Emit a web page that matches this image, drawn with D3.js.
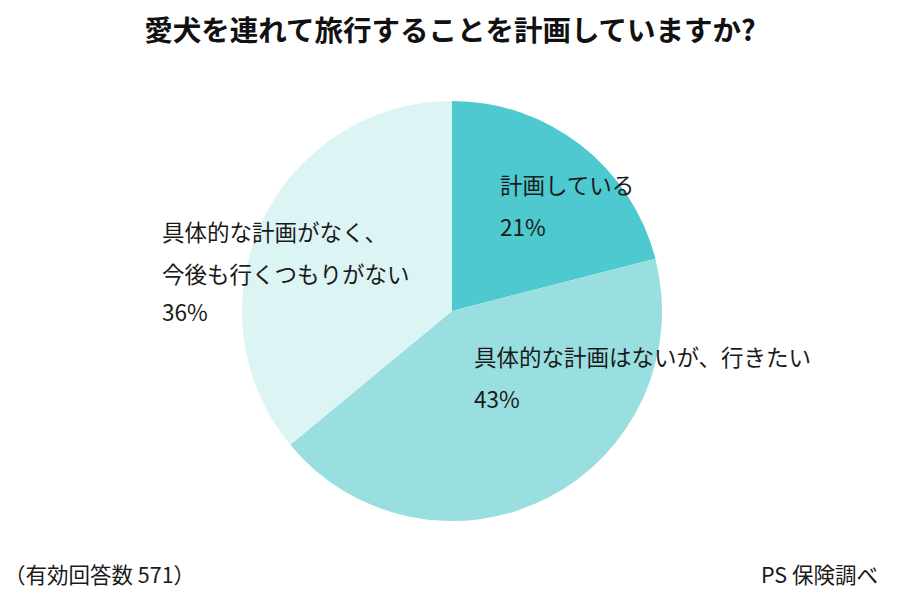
<!DOCTYPE html>
<html><head><meta charset="utf-8">
<script src="https://cdn.jsdelivr.net/npm/d3@7"></script>
<style>body{margin:0;background:#fff}</style>
</head><body>
<svg id="c" width="900" height="600"></svg>
<script>
const categories = ["計画している", "具体的な計画はないが、行きたい", "具体的な計画がなく、今後も行くつもりがない"];
const values = [21, 43, 36];
const colors = ["#4dc9cf", "#99dfe0", "#ddf4f4"];
const labelLines = [["計画している", "21%"], ["具体的な計画はないが、行きたい", "43%"], ["具体的な計画がなく、", "今後も行くつもりがない", "36%"]];
const labelPos = [[500, 194], [474, 366], [162, 241]];
const title = "愛犬を連れて旅行することを計画していますか?";
const noteLeft = "（有効回答数 571）";
const noteRight = "PS 保険調べ";

const font = "'Noto Sans CJK JP', 'Noto Sans', sans-serif";
const svg = d3.select("#c");
const cx = 452, cy = 311, r = 210;

svg.append("text").attr("x", 450).attr("y", 41).attr("text-anchor", "middle")
  .attr("font-family", font).attr("font-weight", "bold").attr("font-size", 28.5)
  .attr("fill", "#111").text(title);

const pie = d3.pie().sort(null).value(d => d)(values);
const arc = d3.arc().innerRadius(0).outerRadius(r);
const g = svg.append("g").attr("transform", `translate(${cx},${cy})`);
g.selectAll("path").data(pie).join("path")
  .attr("d", arc).attr("fill", (d, i) => colors[i]);

labelLines.forEach((lines, i) => {
  const t = svg.append("text").attr("font-family", font).attr("font-size", 22.5).attr("fill", "#1a1a1a");
  lines.forEach((ln, j) => {
    const dy = (i === 2 && j === 2) ? 80 : j * 42;
    t.append("tspan").attr("x", labelPos[i][0]).attr("y", labelPos[i][1] + dy).text(ln);
  });
});

svg.append("text").attr("x", 4).attr("y", 583).attr("font-family", font).attr("font-size", 21.5)
  .attr("fill", "#1a1a1a").text(noteLeft);
svg.append("text").attr("x", 878).attr("y", 583).attr("text-anchor", "end").attr("font-family", font).attr("font-size", 21.5)
  .attr("fill", "#1a1a1a").text(noteRight);
</script>
</body></html>
